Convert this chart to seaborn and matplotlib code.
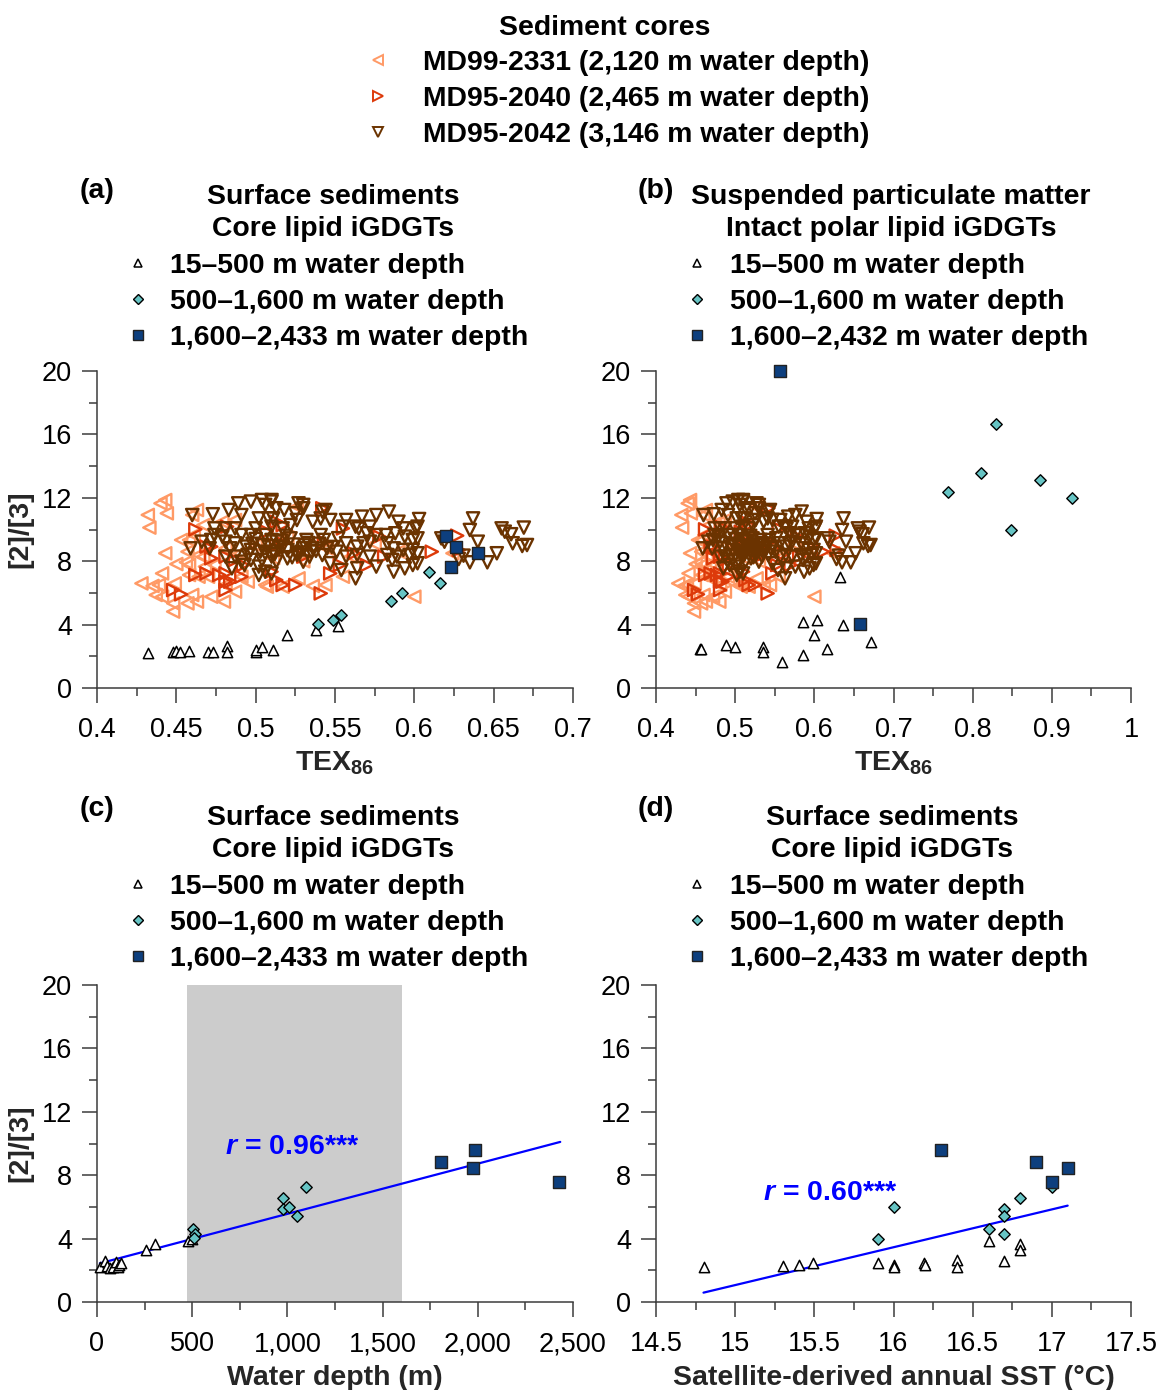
import numpy as np
import pandas as pd
import matplotlib
matplotlib.use("Agg")
import matplotlib.pyplot as plt
import seaborn as sns
from matplotlib.lines import Line2D
from matplotlib.ticker import MultipleLocator, FuncFormatter

# ---------------- DATA ----------------
# Down-core records (TEX86 vs [2]/[3]) shown in panels (a) and (b)
tex_2331 = [0.443, 0.440, 0.432, 0.444, 0.433, 0.463, 0.460, 0.467, 0.458, 0.453,
            0.461, 0.443, 0.457, 0.464, 0.467, 0.450, 0.456, 0.458, 0.441, 0.458,
            0.449, 0.428, 0.435, 0.439, 0.437, 0.441, 0.460, 0.448, 0.457, 0.463,
            0.448, 0.472, 0.480, 0.481, 0.487, 0.495, 0.506, 0.468, 0.474, 0.481,
            0.479, 0.487, 0.491, 0.470, 0.464, 0.507, 0.517, 0.527, 0.536, 0.544,
            0.555, 0.526, 0.600, 0.624, 0.490, 0.500, 0.511, 0.520, 0.530, 0.545,
            0.560, 0.575, 0.590]
r_2331 = [11.86, 11.65, 10.92, 11.02, 10.12, 11.23, 10.92, 10.28, 9.34, 9.34,
          9.65, 8.50, 8.60, 8.39, 8.29, 7.82, 7.93, 7.76, 7.23, 7.13,
          6.60, 6.60, 6.44, 6.50, 5.87, 5.76, 5.87, 5.34, 5.34, 5.45,
          4.82, 5.76, 5.45, 6.50, 6.08, 6.71, 6.50, 7.66, 7.76, 8.81,
          10.49, 10.60, 7.02, 7.02, 7.02, 6.39, 6.39, 6.92, 6.44, 6.50,
          7.02, 11.44, 5.76, 8.50, 8.50, 9.00, 8.20, 9.50, 8.00, 8.80,
          8.30, 9.10, 8.60]

tex_2040 = [0.462, 0.482, 0.469, 0.472, 0.462, 0.469, 0.477, 0.481, 0.481, 0.484,
            0.491, 0.448, 0.453, 0.481, 0.472, 0.481, 0.487, 0.492, 0.542, 0.513,
            0.517, 0.555, 0.553, 0.570, 0.547, 0.525, 0.541, 0.513, 0.510, 0.627,
            0.611, 0.628, 0.507, 0.517, 0.530, 0.543, 0.562, 0.581, 0.578, 0.513,
            0.517]
r_2040 = [10.01, 10.18, 8.92, 8.92, 7.13, 7.23, 7.13, 7.23, 6.71, 6.71,
          7.02, 6.18, 5.91, 6.18, 8.18, 8.29, 8.08, 7.76, 11.34, 10.49,
          10.28, 10.07, 7.76, 7.76, 7.23, 6.50, 5.97, 9.02, 7.34, 9.61,
          8.60, 8.71, 9.86, 9.13, 8.29, 9.23, 8.50, 8.29, 9.55, 6.81,
          6.50]

tex_2042 = [0.460, 0.473, 0.483, 0.491, 0.489, 0.497, 0.504, 0.506, 0.510, 0.502,
            0.508, 0.510, 0.474, 0.481, 0.487, 0.500, 0.474, 0.479, 0.491, 0.497,
            0.506, 0.466, 0.472, 0.481, 0.487, 0.494, 0.504, 0.510, 0.459, 0.471,
            0.484, 0.497, 0.506, 0.481, 0.487, 0.491, 0.497, 0.504, 0.510, 0.502,
            0.506, 0.510, 0.485, 0.493, 0.502,
            0.510, 0.513, 0.518, 0.527, 0.530, 0.530, 0.542, 0.544, 0.525, 0.526,
            0.511, 0.517, 0.522, 0.536, 0.541, 0.547, 0.557, 0.567, 0.576, 0.584,
            0.555, 0.563, 0.565, 0.572, 0.590, 0.593, 0.601, 0.570, 0.576, 0.582,
            0.588, 0.594, 0.599, 0.541, 0.543, 0.532, 0.522, 0.513, 0.517, 0.511,
            0.530, 0.526, 0.536, 0.545, 0.557, 0.564, 0.568, 0.572, 0.583, 0.587,
            0.593, 0.599, 0.513, 0.520, 0.526, 0.530, 0.534, 0.542, 0.551, 0.557,
            0.564, 0.572, 0.583, 0.589, 0.597, 0.547, 0.554, 0.564, 0.563, 0.576,
            0.586, 0.587, 0.594, 0.599,
            0.603, 0.602, 0.602, 0.602, 0.602, 0.637, 0.635, 0.617, 0.619, 0.640,
            0.652, 0.646, 0.635, 0.628, 0.631, 0.655, 0.657, 0.661, 0.662, 0.669,
            0.668, 0.671,
            0.498, 0.503, 0.508, 0.512, 0.516, 0.520, 0.524, 0.528, 0.533, 0.538,
            0.495, 0.500, 0.515, 0.519, 0.523, 0.531, 0.535, 0.540, 0.548, 0.552]
r_2042 = [10.91, 10.96, 11.23, 10.91, 11.65, 11.76, 11.86, 11.55, 11.76, 10.70,
          10.70, 10.18, 10.07, 10.07, 10.07, 10.07, 9.65, 9.55, 9.65, 9.65,
          9.65, 9.23, 9.34, 9.23, 9.13, 8.92, 9.02, 9.34, 8.81, 8.81,
          8.81, 8.71, 8.50, 8.29, 8.29, 7.97, 8.08, 8.08, 8.29, 7.66,
          7.34, 7.23, 7.55, 7.76, 7.13,
          11.86, 11.34, 11.23, 11.65, 11.55, 11.34, 11.13, 11.23, 11.02, 10.60,
          10.70, 10.07, 10.28, 10.49, 10.70, 10.60, 10.60, 10.81, 10.91, 11.13,
          10.18, 10.18, 10.07, 10.18, 10.49, 10.07, 10.07, 9.76, 9.65, 9.65,
          9.76, 9.55, 9.34, 9.65, 9.34, 9.34, 9.44, 9.23, 8.92, 8.60,
          8.81, 8.50, 8.81, 8.81, 9.13, 8.92, 9.13, 9.23, 9.13, 8.81,
          8.71, 8.71, 7.97, 8.18, 8.39, 7.97, 8.29, 8.39, 8.60, 8.29,
          8.39, 8.29, 8.39, 8.29, 8.39, 7.87, 7.44, 7.55, 6.92, 7.66,
          8.08, 7.34, 7.55, 7.76,
          10.66, 10.18, 9.44, 8.50, 7.87, 10.70, 9.97, 9.44, 9.23, 9.23,
          8.50, 7.93, 7.93, 8.14, 8.35, 10.07, 9.86, 9.70, 9.13, 10.12,
          8.96, 9.02,
          9.10, 8.60, 8.95, 8.45, 9.30, 8.70, 9.05, 8.55, 9.15, 8.65,
          8.40, 9.40, 8.85, 9.60, 8.25, 9.00, 8.60, 9.10, 8.90, 9.45]

# Panel (a): surface sediments, core lipids
tex_a_shallow = [0.432, 0.448, 0.450, 0.452, 0.458, 0.470, 0.473, 0.482, 0.482, 0.500,
                 0.500, 0.504, 0.511, 0.520, 0.538, 0.552]
r_a_shallow = [2.23, 2.25, 2.35, 2.29, 2.35, 2.25, 2.25, 2.67, 2.29, 2.25,
               2.40, 2.57, 2.38, 3.32, 3.66, 3.91]
tex_a_mid = [0.539, 0.549, 0.554, 0.585, 0.592, 0.609, 0.616]
r_a_mid = [4.02, 4.29, 4.60, 5.47, 6.02, 7.30, 6.60]
tex_a_deep = [0.620, 0.626, 0.623, 0.640]
r_a_deep = [9.61, 8.88, 7.61, 8.54]

# Panel (b): suspended particulate matter, intact polar lipids
tex_b_shallow = [0.456, 0.457, 0.489, 0.500, 0.535, 0.535, 0.559, 0.586, 0.586, 0.603,
                 0.600, 0.616, 0.636, 0.632, 0.671]
r_b_shallow = [2.48, 2.45, 2.71, 2.57, 2.57, 2.27, 1.64, 2.10, 4.16, 4.31,
               3.32, 2.48, 3.97, 6.98, 2.90]
tex_b_mid = [0.829, 0.811, 0.769, 0.885, 0.925, 0.849]
r_b_mid = [16.66, 13.56, 12.35, 13.12, 12.01, 9.99]
tex_b_deep = [0.556, 0.658]
r_b_deep = [20.0, 4.02]

# Panel (c): water depth
depth_shallow = [16, 42, 51, 68, 86, 100, 112, 117, 125, 258, 305, 477, 498]
r_c_shallow = [2.23, 2.60, 2.29, 2.16, 2.23, 2.54, 2.23, 2.33, 2.44, 3.28, 3.66, 3.85, 3.96]
depth_mid = [503, 517, 510, 977, 977, 1007, 1051, 1098]
r_c_mid = [4.60, 4.27, 4.05, 6.58, 5.85, 5.97, 5.43, 7.26]
depth_deep = [1805, 1986, 1977, 2428]
r_c_deep = [8.85, 9.59, 8.47, 7.59]
fit_c_x = [15, 2433]
fit_c_y = [2.44, 10.10]

# Panel (d): satellite SST
sst_shallow = [14.80, 15.30, 15.40, 15.49, 15.90, 16.00, 16.00, 16.19, 16.20, 16.40,
               16.40, 16.60, 16.70, 16.80, 16.80]
r_d_shallow = [2.23, 2.27, 2.33, 2.44, 2.44, 2.33, 2.23, 2.44, 2.33, 2.65,
               2.19, 3.87, 2.59, 3.64, 3.30]
sst_mid = [15.90, 16.00, 16.60, 16.70, 16.70, 16.70, 16.80, 17.00]
r_d_mid = [3.97, 5.97, 4.58, 5.87, 5.43, 4.27, 6.58, 7.27]
sst_deep = [16.30, 16.90, 17.00, 17.10]
r_d_deep = [9.59, 8.85, 7.59, 8.47]
fit_d_x = [14.80, 17.10]
fit_d_y = [0.59, 6.08]

core_labels = ["MD99-2331 (2,120 m water depth)",
               "MD95-2040 (2,465 m water depth)",
               "MD95-2042 (3,146 m water depth)"]
depth_labels_a = ["15\u2013500 m water depth", "500\u20131,600 m water depth",
                  "1,600\u20132,433 m water depth"]
depth_labels_b = ["15\u2013500 m water depth", "500\u20131,600 m water depth",
                  "1,600\u20132,432 m water depth"]

# ---------------- STYLE ----------------
sns.set_theme(style="ticks")
plt.rcParams["font.family"] = ["Liberation Sans", "DejaVu Sans"]
plt.rcParams.update({
    "mathtext.fontset": "custom",
    "mathtext.rm": "Liberation Sans",
    "mathtext.bf": "Liberation Sans:bold",
    "mathtext.it": "Liberation Sans:bold:italic",
})

C_2331 = "#FF9A66"
C_2040 = "#DD3A0A"
C_2042 = "#6B3300"
C_MID = "#66C4C4"
C_DEEP = "#0D3F7E"
C_AX = "#3c3c3c"
C_BLUE = "#0000FF"

W, H = 1161, 1390
fig = plt.figure(figsize=(W / 100, H / 100), dpi=100)

DY = 3  # small vertical text offset (px)


def px_axes(l, r, t, b):
    return fig.add_axes([l / W, 1 - b / H, (r - l) / W, (b - t) / H])


def fx(x):
    return x / W


def fy(y):
    return 1 - y / H


ax_a = px_axes(97, 573, 371, 688)
ax_b = px_axes(656, 1131, 371, 688)
ax_c = px_axes(97, 573, 985, 1302)
ax_d = px_axes(656, 1131, 985, 1302)


def hollow(ax, x, y, marker, color, s=78, lw=1.7):
    sns.scatterplot(x=x, y=y, ax=ax, marker=marker, s=s, color=color,
                    facecolor="none", edgecolor=color, linewidth=lw,
                    legend=False, clip_on=False, zorder=3)


def surface(ax, xs, ys, xm, ym, xd, yd):
    sns.scatterplot(x=xs, y=ys, ax=ax, marker="^", s=55, color="white",
                    edgecolor="black", linewidth=1.1, legend=False,
                    clip_on=False, zorder=4)
    sns.scatterplot(x=xm, y=ym, ax=ax, marker="D", s=34, color=C_MID,
                    edgecolor="black", linewidth=1.0, legend=False,
                    clip_on=False, zorder=5)
    sns.scatterplot(x=xd, y=yd, ax=ax, marker="s", s=66, color=C_DEEP,
                    edgecolor="#222222", linewidth=1.0, legend=False,
                    clip_on=False, zorder=6)


for ax in (ax_a, ax_b):
    hollow(ax, tex_2331, r_2331, "<", C_2331)
    hollow(ax, tex_2040, r_2040, ">", C_2040)
    hollow(ax, tex_2042, r_2042, "v", C_2042)

surface(ax_a, tex_a_shallow, r_a_shallow, tex_a_mid, r_a_mid, tex_a_deep, r_a_deep)
surface(ax_b, tex_b_shallow, r_b_shallow, tex_b_mid, r_b_mid, tex_b_deep, r_b_deep)

ax_c.axvspan(475, 1600, color="#cccccc", zorder=0, lw=0)
sns.lineplot(x=fit_c_x, y=fit_c_y, ax=ax_c, color=C_BLUE, linewidth=1.6, zorder=2)
surface(ax_c, depth_shallow, r_c_shallow, depth_mid, r_c_mid, depth_deep, r_c_deep)

sns.lineplot(x=fit_d_x, y=fit_d_y, ax=ax_d, color=C_BLUE, linewidth=1.6, zorder=2)
surface(ax_d, sst_shallow, r_d_shallow, sst_mid, r_d_mid, sst_deep, r_d_deep)

ax_c.text(1023, 9.75, r"$\mathit{r}$ = 0.96***", color=C_BLUE, fontsize=20.5,
          fontweight="bold", ha="center", va="center", zorder=7)
ax_d.text(15.6, 6.9, r"$\mathit{r}$ = 0.60***", color=C_BLUE, fontsize=20.5,
          fontweight="bold", ha="center", va="center", zorder=7)

# axes formatting
fmt_g = FuncFormatter(lambda v, p: f"{v:g}")
fmt_comma = FuncFormatter(lambda v, p: f"{int(round(v)):,}")
settings = [
    (ax_a, (0.4, 0.7), 0.05, 0.025, fmt_g),
    (ax_b, (0.4, 1.0), 0.1, 0.05, fmt_g),
    (ax_c, (0, 2500), 500, 250, fmt_comma),
    (ax_d, (14.5, 17.5), 0.5, 0.25, fmt_g),
]
for ax, xl, maj, mnr, fmt in settings:
    ax.set_xlim(*xl)
    ax.set_ylim(0, 20)
    ax.xaxis.set_major_locator(MultipleLocator(maj))
    ax.xaxis.set_minor_locator(MultipleLocator(mnr))
    ax.xaxis.set_major_formatter(fmt)
    ax.yaxis.set_major_locator(MultipleLocator(4))
    ax.yaxis.set_minor_locator(MultipleLocator(2))
    ax.set_facecolor("none")
    sns.despine(ax=ax)
    for s in ("left", "bottom"):
        ax.spines[s].set_color(C_AX)
        ax.spines[s].set_linewidth(1.1)
    ax.tick_params(which="major", direction="out", length=11, width=1.1,
                   color=C_AX, labelsize=19.5, labelcolor="black")
    ax.tick_params(which="minor", direction="out", length=6, width=1.1, color=C_AX)
    ax.tick_params(axis="x", which="major", pad=10)
    ax.tick_params(axis="y", which="major", pad=7)
    ax.set_xlabel("")
    ax.set_ylabel("")

for ax in (ax_a, ax_c):
    ax.set_ylabel("[2]/[3]", fontsize=20.5, fontweight="bold")
    ax.yaxis.label.set_rotation_mode("default")
    ax.yaxis.label.set_va("center")
    ax.yaxis.set_label_coords(-0.16, 0.5)

xlabels = [(ax_a, r"TEX$_{\mathbf{86}}$", 763), (ax_b, r"TEX$_{\mathbf{86}}$", 763),
           (ax_c, "Water depth (m)", 1378), (ax_d, "Satellite-derived annual SST (\u00b0C)", 1378)]
for ax, lab, ypx in xlabels:
    ax.set_xlabel(lab, fontsize=20.5, fontweight="bold")
    ax.xaxis.label.set_va("center")
    base = 688 if ax in (ax_a, ax_b) else 1302
    ax.xaxis.set_label_coords(0.5, -(ypx - base) / 317)

# ---------------- LEGENDS / TITLES ----------------
TXT = dict(fontsize=20.4, fontweight="bold", color="black")


def marker_at(xp, yp, marker, fc, ec, ms, mew):
    fig.add_artist(Line2D([fx(xp)], [fy(yp)], transform=fig.transFigure,
                          marker=marker, markersize=ms, markerfacecolor=fc,
                          markeredgecolor=ec, markeredgewidth=mew, linestyle="none"))


def label_at(xp, yp, s, ha):
    fig.text(fx(xp), fy(yp + DY), s, ha=ha, va="center", **TXT)


label_at(605, 25, "Sediment cores", "center")
core_styles = [("<", C_2331), (">", C_2040), ("v", C_2042)]
for i, (lab, (mk, col)) in enumerate(zip(core_labels, core_styles)):
    yp = 60 + 36 * i
    marker_at(378, yp, mk, "none", col, 6.5, 1.4)
    label_at(423, yp, lab, "left")

panels = [
    ("(a)", 97, 188, ["Surface sediments", "Core lipid iGDGTs"], 333, 194, depth_labels_a, 138, 170, 263),
    ("(b)", 656, 188, ["Suspended particulate matter", "Intact polar lipid iGDGTs"], 891, 194, depth_labels_b, 697, 730, 263),
    ("(c)", 97, 806, ["Surface sediments", "Core lipid iGDGTs"], 333, 815, depth_labels_a, 138, 170, 884),
    ("(d)", 656, 806, ["Surface sediments", "Core lipid iGDGTs"], 892, 815, depth_labels_a, 697, 730, 884),
]
for tag, tx, ty, titles, cx, t0, labs, mx, lx, l0 in panels:
    label_at(tx, ty, tag, "center")
    for j, t in enumerate(titles):
        label_at(cx, t0 + 32 * j, t, "center")
    styles = [("^", "white", "black", 6.0, 1.1), ("D", C_MID, "black", 4.6, 1.0),
              ("s", C_DEEP, "#222222", 6.6, 1.0)]
    for k, (lab, (mk, fc, ec, ms, mew)) in enumerate(zip(labs, styles)):
        yp = l0 + 36 * k
        marker_at(mx, yp, mk, fc, ec, ms, mew)
        label_at(lx, yp, lab, "left")

fig.savefig("out.png", dpi=100, facecolor="white")
